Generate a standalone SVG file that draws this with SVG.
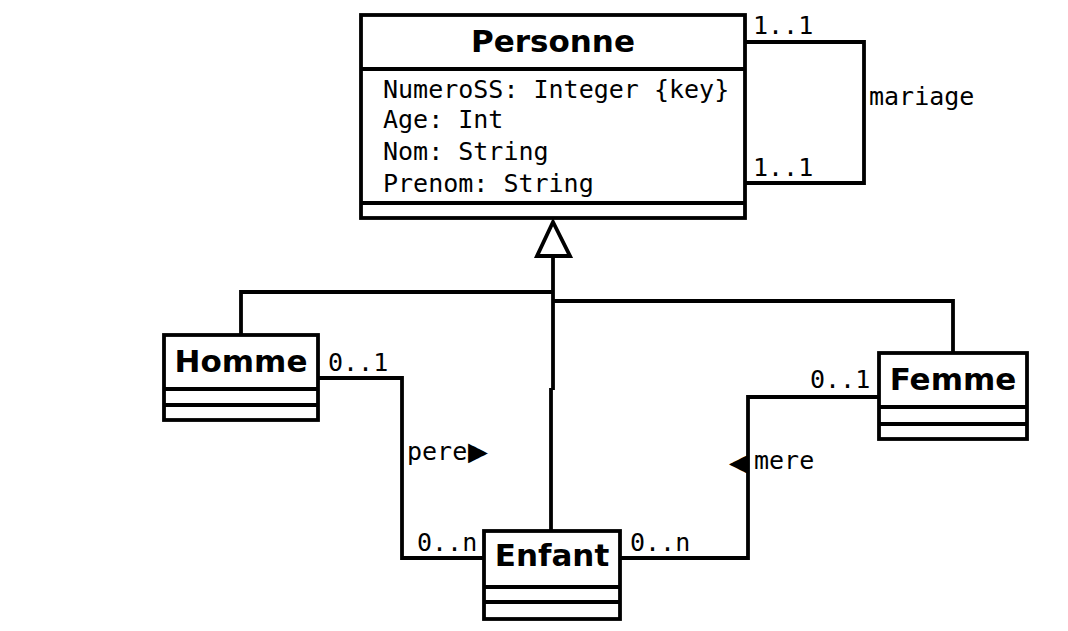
<svg xmlns="http://www.w3.org/2000/svg" width="1068" height="631" viewBox="0 0 1068 631">
<style>
.box{fill:#fff;stroke:#000;stroke-width:3.8}
.sep{stroke:#000;stroke-width:3.8;fill:none}
.title{font-family:"DejaVu Sans",sans-serif;font-weight:bold;font-size:31px;fill:#000;text-anchor:middle}
.mono{font-family:"DejaVu Sans Mono",monospace;font-size:25px;fill:#000}
.arr{font-size:33px}
.conn{fill:none;stroke:#000;stroke-width:3.8}
</style>
<rect width="1068" height="631" fill="#fff"/>
<g id="connectors">
<path class="conn" d="M745,42 H864 V183 H745"/>
<path class="conn" d="M241,335 V292 H553"/>
<path class="conn" d="M953,352 V301 H553"/>
<path class="conn" d="M553,256 V390"/>
<path class="conn" d="M551,388 V531"/>
<path class="conn" d="M318,378 H402 V558 H484"/>
<path class="conn" d="M879,397 H748 V558 H620"/>
<polygon points="553,222 537,256 570,256" fill="#fff" stroke="#000" stroke-width="3.8"/>
<text class="mono" x="753" y="34">1..1</text>
<text class="mono" x="753" y="176">1..1</text>
<text class="mono" x="869" y="105">mariage</text>
<text class="mono" x="328" y="371">0..1</text>
<text class="mono" x="407" y="460">pere<tspan class="arr" x="468" y="462">▶</tspan></text>
<text class="mono" x="417" y="551">0..n</text>
<text class="mono" x="810" y="388">0..1</text>
<text class="mono" x="729" y="473"><tspan class="arr">◀</tspan><tspan x="754" y="469">mere</tspan></text>
<text class="mono" x="630" y="551">0..n</text>
</g>
<g id="Personne">
<rect class="box" x="361" y="15" width="384" height="203"/>
<line class="sep" x1="361" y1="69" x2="745" y2="69"/>
<line class="sep" x1="361" y1="203" x2="745" y2="203"/>
<text class="title" x="553" y="52">Personne</text>
<text class="mono" x="383" y="98">NumeroSS: Integer {key}</text>
<text class="mono" x="383" y="128">Age: Int</text>
<text class="mono" x="383" y="160">Nom: String</text>
<text class="mono" x="383" y="192">Prenom: String</text>
</g>
<g id="Homme">
<rect class="box" x="164" y="335" width="154" height="85"/>
<line class="sep" x1="164" y1="389" x2="318" y2="389"/>
<line class="sep" x1="164" y1="405" x2="318" y2="405"/>
<text class="title" x="241" y="372">Homme</text>
</g>
<g id="Femme">
<rect class="box" x="879" y="353" width="148" height="86"/>
<line class="sep" x1="879" y1="407" x2="1027" y2="407"/>
<line class="sep" x1="879" y1="424" x2="1027" y2="424"/>
<text class="title" x="953" y="390">Femme</text>
</g>
<g id="Enfant">
<rect class="box" x="484" y="531" width="136" height="88"/>
<line class="sep" x1="484" y1="587" x2="620" y2="587"/>
<line class="sep" x1="484" y1="602" x2="620" y2="602"/>
<text class="title" x="552" y="566">Enfant</text>
</g>
</svg>
